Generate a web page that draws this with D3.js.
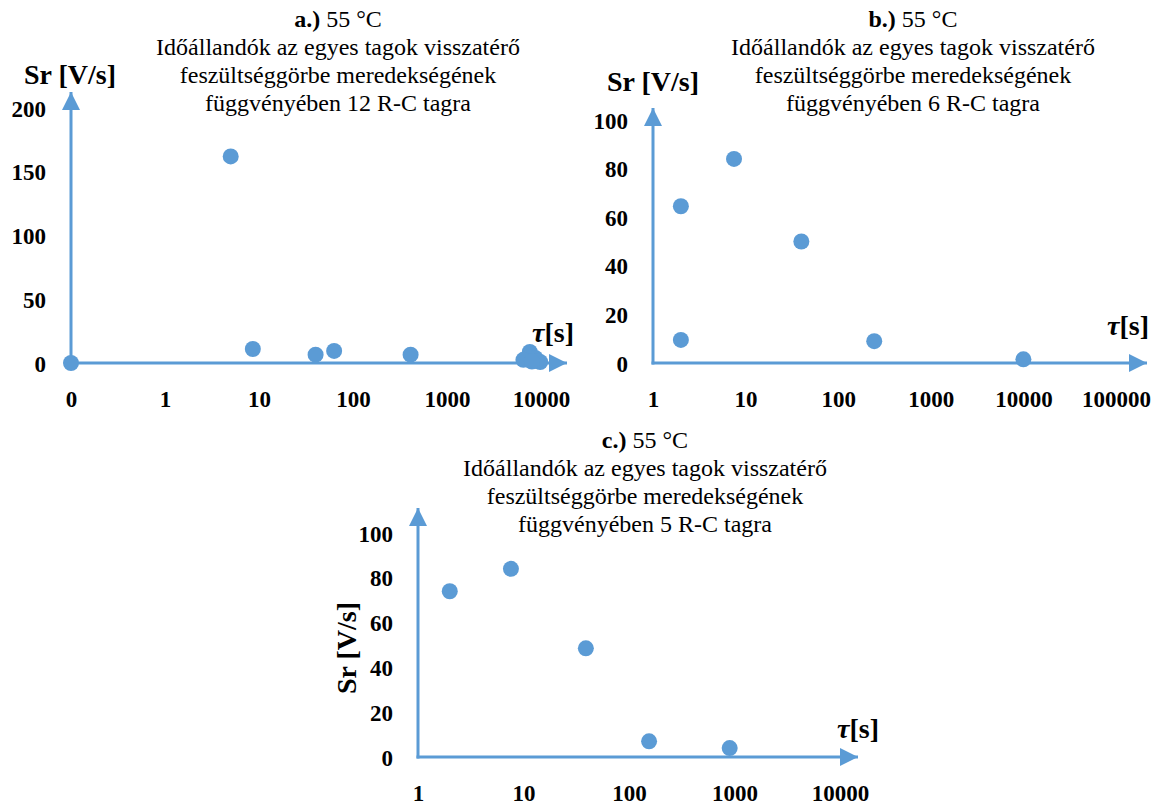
<!DOCTYPE html>
<html>
<head>
<meta charset="utf-8">
<script src="https://cdnjs.cloudflare.com/ajax/libs/d3/7.8.5/d3.min.js"></script>
<style>
  body { margin: 0; background: #fff; }
  svg { display: block; font-family: "Liberation Serif", serif; }
  .tick text { font-family: "Liberation Serif", serif; font-weight: bold; font-size: 23px; fill: #000; }
</style>
</head>
<body>
<svg id="chart" width="1155" height="805"></svg>
<script>
// panel a: 12 R-C
const tauA = [0.1, 5, 8.6, 40, 63, 410, 7600, 6500, 8700, 9800, 9000, 8000];
const srA = [0, 162, 11, 6.5, 9.5, 6.5, 8.7, 2.5, 4, 0.8, 1.5, 1.2];
const xTicksA = [0.1, 1, 10, 100, 1000, 10000];
const xLabelsA = ['0', '1', '10', '100', '1000', '10000'];
const yTicksA = [0, 50, 100, 150, 200];

// panel b: 6 R-C
const tauB = [2, 2, 7.5, 40, 245, 10000];
const srB = [64.5, 9.5, 84, 50, 9, 1.5];
const xTicksB = [1, 10, 100, 1000, 10000, 100000];
const xLabelsB = ['1', '10', '100', '1000', '10000', '100000'];
const yTicksB = [0, 20, 40, 60, 80, 100];

// panel c: 5 R-C
const tauC = [2, 7.6, 39, 155, 900];
const srC = [74, 84, 48.5, 7, 4];
const xTicksC = [1, 10, 100, 1000, 10000];
const xLabelsC = ['1', '10', '100', '1000', '10000'];
const yTicksC = [0, 20, 40, 60, 80, 100];

const titleLines = ['Időállandók az egyes tagok visszatérő', 'feszültséggörbe meredekségének'];

const blue = '#5b9bd5';
const svg = d3.select('#chart');

const panels = [
  { tag: 'a.)', n: 12, tau: tauA, sr: srA, xt: xTicksA, xl: xLabelsA, yt: yTicksA,
    x: [71, 541], y: [363, 108], xTip: 567, yTip: 92, title: [338, 19],
    yLab: { x: 70, y: 84, rot: false }, tLab: [553, 342] },
  { tag: 'b.)', n: 6, tau: tauB, sr: srB, xt: xTicksB, xl: xLabelsB, yt: yTicksB,
    x: [653, 1116], y: [363, 120], xTip: 1147, yTip: 108, title: [913, 19],
    yLab: { x: 653, y: 91, rot: false }, tLab: [1128, 335] },
  { tag: 'c.)', n: 5, tau: tauC, sr: srC, xt: xTicksC, xl: xLabelsC, yt: yTicksC,
    x: [418, 840], y: [757, 533], xTip: 858, yTip: 508, title: [645, 440],
    yLab: { x: 356, y: 648, rot: true }, tLab: [858, 738] }
];

svg.append('defs').append('marker')
  .attr('id', 'arrow')
  .attr('viewBox', '0 0 10 10')
  .attr('refX', 10).attr('refY', 5)
  .attr('markerWidth', 6).attr('markerHeight', 6)
  .attr('markerUnits', 'strokeWidth')
  .attr('orient', 'auto')
  .append('path')
  .attr('d', 'M0,0 L10,5 L0,10 Z')
  .attr('fill', blue);

panels.forEach(p => {
  const x = d3.scaleLog().domain([p.xt[0], p.xt[p.xt.length - 1]]).range(p.x);
  const y = d3.scaleLinear().domain([0, p.yt[p.yt.length - 1]]).range(p.y);
  const g = svg.append('g');

  // title
  const t = g.append('text')
    .attr('text-anchor', 'middle')
    .attr('font-size', 24)
    .attr('fill', '#000');
  const l1 = t.append('tspan').attr('x', p.title[0]).attr('y', p.title[1] + 8);
  l1.append('tspan').attr('font-weight', 'bold').text(p.tag);
  l1.append('tspan').text(' 55 °C');
  titleLines.concat([`függvényében ${p.n} R-C tagra`]).forEach((s, i) => {
    t.append('tspan').attr('x', p.title[0]).attr('y', p.title[1] + 8 + (i + 1) * 28).text(s);
  });

  // tick labels
  g.append('g')
    .attr('transform', `translate(0,${p.y[0] + 36})`)
    .call(d3.axisBottom(x).tickValues(p.xt).tickFormat((d, i) => p.xl[i]).tickSize(0))
    .call(a => a.select('.domain').remove())
    .selectAll('text').attr('dy', '0.35em').attr('y', 0);

  g.append('g')
    .attr('transform', `translate(${p.x[0] - 25},0)`)
    .call(d3.axisLeft(y).tickValues(p.yt).tickSize(0).tickPadding(0))
    .call(a => a.select('.domain').remove())
    .selectAll('text').attr('dy', '0.35em');

  // axis lines with arrows
  g.append('line')
    .attr('x1', p.x[0]).attr('y1', p.y[0] + 1.5)
    .attr('x2', p.x[0]).attr('y2', p.yTip)
    .attr('stroke', blue).attr('stroke-width', 3)
    .attr('marker-end', 'url(#arrow)');
  g.append('line')
    .attr('x1', p.x[0] - 1.5).attr('y1', p.y[0])
    .attr('x2', p.xTip).attr('y2', p.y[0])
    .attr('stroke', blue).attr('stroke-width', 3)
    .attr('marker-end', 'url(#arrow)');

  // axis titles
  const yl = g.append('text')
    .attr('font-size', 28).attr('font-weight', 'bold')
    .attr('text-anchor', 'middle').attr('fill', '#000')
    .text('Sr [V/s]');
  if (p.yLab.rot) {
    yl.attr('transform', `translate(${p.yLab.x},${p.yLab.y}) rotate(-90)`);
  } else {
    yl.attr('x', p.yLab.x).attr('y', p.yLab.y);
  }
  const tl = g.append('text')
    .attr('x', p.tLab[0]).attr('y', p.tLab[1])
    .attr('font-size', 28).attr('font-weight', 'bold')
    .attr('text-anchor', 'middle').attr('fill', '#000');
  tl.append('tspan').attr('font-style', 'italic').text('τ');
  tl.append('tspan').text('[s]');

  // points
  g.selectAll('circle')
    .data(p.tau.map((d, i) => ({ tau: d, sr: p.sr[i] })))
    .enter()
    .append('circle')
    .attr('cx', d => x(d.tau))
    .attr('cy', d => y(d.sr))
    .attr('r', 8)
    .attr('fill', blue);
});
</script>
</body>
</html>
